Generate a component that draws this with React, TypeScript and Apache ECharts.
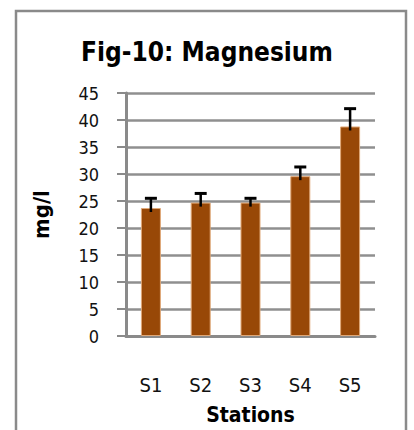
import React, { useEffect, useRef } from "react";
import * as echarts from "echarts";

const categories = ["S1", "S2", "S3", "S4", "S5"];
const magnesium = [23.7, 24.7, 24.7, 29.6, 38.8];
const errorPlus = [1.8, 1.7, 0.8, 1.7, 3.3];
const yTicks = { min: 0, max: 45, interval: 5 };

export default function App() {
  const ref = useRef<HTMLDivElement>(null);
  useEffect(() => {
    if (!ref.current) return;
    const chart = echarts.init(ref.current, undefined, { renderer: "svg" });
    const font = "'DejaVu Sans Condensed', 'Liberation Sans', sans-serif";
    chart.setOption({
      animation: false,
      backgroundColor: "#ffffff",
      title: {
        text: "Fig-10: Magnesium",
        left: "center",
        top: 34,
        textStyle: { fontFamily: font, fontWeight: "bold", fontSize: 26, color: "#000" },
      },
      graphic: [
        {
          type: "rect",
          shape: { x: 16, y: 11, width: 390, height: 440 },
          style: { fill: "none", stroke: "#8a8a8a", lineWidth: 2.5 },
          silent: true,
        },
      ],
      grid: { left: 126, right: 39, top: 93, bottom: 92 },
      xAxis: {
        type: "category",
        data: categories,
        axisLine: { show: true, lineStyle: { color: "#8a8a8a", width: 3 } },
        axisTick: { show: false },
        axisLabel: { fontFamily: font, fontSize: 20, color: "#111", margin: 39 },
        name: "Stations",
        nameLocation: "middle",
        nameGap: 68,
        nameTextStyle: { fontFamily: font, fontWeight: "bold", fontSize: 21, color: "#000" },
      },
      yAxis: {
        type: "value",
        min: yTicks.min,
        max: yTicks.max,
        interval: yTicks.interval,
        axisLine: { show: true, lineStyle: { color: "#8a8a8a", width: 3 } },
        axisTick: { show: true, length: 9, lineStyle: { color: "#8a8a8a", width: 2 } },
        splitLine: { show: true, lineStyle: { color: "#8f8f8f", width: 2.5 } },
        axisLabel: { fontFamily: font, fontSize: 18, color: "#111", margin: 27 },
        name: "mg/l",
        nameLocation: "middle",
        nameGap: 74,
        nameRotate: 90,
        nameTextStyle: { fontFamily: font, fontWeight: "bold", fontSize: 22, color: "#000" },
      },
      series: [
        {
          type: "bar",
          data: magnesium,
          barWidth: 20,
          itemStyle: { color: "#984807", borderColor: "#e0a878", borderWidth: 1 },
          z: 2,
        },
        {
          type: "custom",
          z: 5,
          data: magnesium.map((v, i) => [i, v, v + errorPlus[i]]),
          renderItem: (params: any, api: any) => {
            const i = api.value(0);
            const base = api.coord([i, api.value(1)]);
            const top = api.coord([i, api.value(2)]);
            const half = 6;
            return {
              type: "group",
              children: [
                {
                  type: "line",
                  shape: { x1: base[0], y1: base[1] + 4, x2: base[0], y2: top[1] },
                  style: { stroke: "#000", lineWidth: 2.5 },
                },
                {
                  type: "line",
                  shape: { x1: base[0] - half, y1: top[1], x2: base[0] + half, y2: top[1] },
                  style: { stroke: "#000", lineWidth: 3 },
                },
              ],
            };
          },
        },
      ],
    });
    return () => chart.dispose();
  }, []);
  return (
    <div
      ref={ref}
      style={{ position: "fixed", left: 0, top: 0, width: 414, height: 430 }}
    />
  );
}
